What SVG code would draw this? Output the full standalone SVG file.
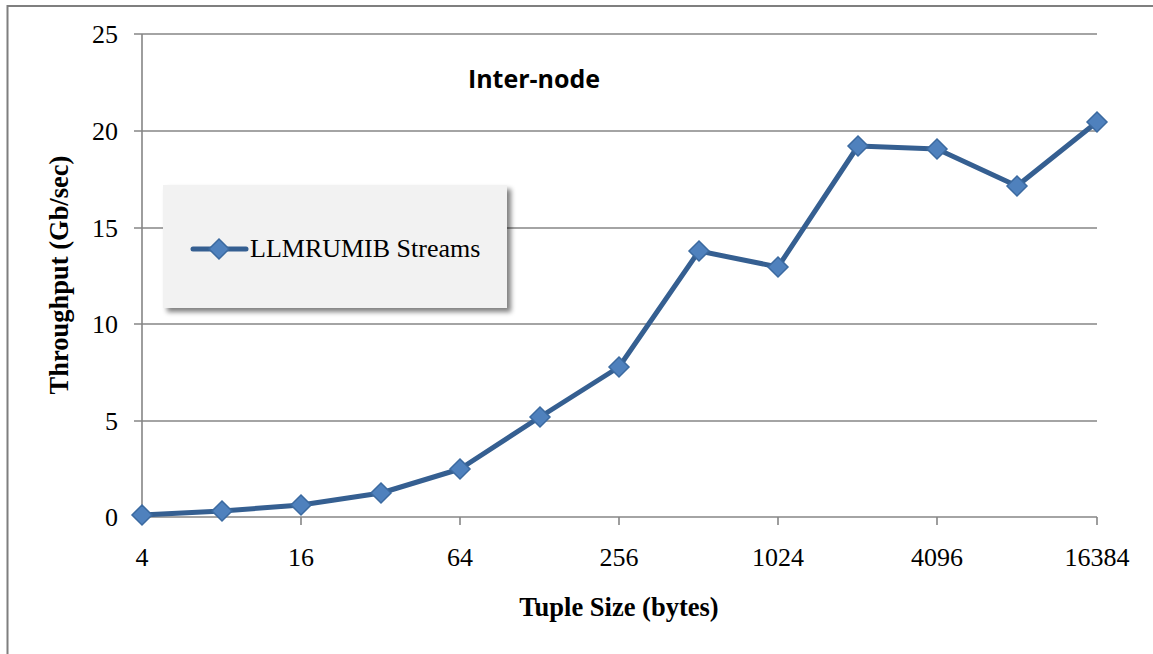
<svg xmlns="http://www.w3.org/2000/svg" width="1153" height="654" viewBox="0 0 1153 654">
<style>
.grid{stroke:#868686;stroke-width:1.6;fill:none}
.tl{font-family:"Liberation Serif",serif;font-size:26px;fill:#000}
.ttl{font-family:"Liberation Serif",serif;font-size:26.5px;font-weight:bold;fill:#000}
.series{stroke:#355f91;stroke-width:5;fill:none;stroke-linejoin:round}
</style>
<defs>
<path id="dia" d="M0,-10 L10,0 L0,10 L-10,0 Z" fill="#4f81bd" stroke="#3b6aa0" stroke-width="1.5"/>
<filter id="sh" x="-10%" y="-10%" width="120%" height="130%">
<feGaussianBlur in="SourceAlpha" stdDeviation="2.5"/>
<feOffset dx="4" dy="4"/>
<feComponentTransfer><feFuncA type="linear" slope="0.5"/></feComponentTransfer>
<feMerge><feMergeNode/><feMergeNode in="SourceGraphic"/></feMerge>
</filter>
</defs>
<rect x="0" y="0" width="1153" height="654" fill="#fff"/>
<path d="M7.5,654 V6 H1153" stroke="#7f7f7f" stroke-width="2" fill="none"/>
<g id="gridlines">
<path class="grid" d="M134,34 H1097 M134,131 H1097 M134,228 H1097 M134,324 H1097 M134,421 H1097 M134,517 H1097 M142,34 V517"/>
<path class="grid" d="M142,517 V525 M301,517 V525 M460,517 V525 M619,517 V525 M778,517 V525 M937,517 V525 M1097,517 V525"/>
</g>
<g id="y-labels" class="tl" text-anchor="end">
<text x="118" y="43">25</text>
<text x="118" y="140">20</text>
<text x="118" y="237">15</text>
<text x="118" y="333">10</text>
<text x="118" y="430">5</text>
<text x="118" y="526">0</text>
</g>
<g id="x-labels" class="tl" text-anchor="middle">
<text x="142" y="566">4</text>
<text x="301" y="566">16</text>
<text x="460" y="566">64</text>
<text x="619" y="566">256</text>
<text x="778" y="566">1024</text>
<text x="937" y="566">4096</text>
<text x="1097" y="566">16384</text>
</g>
<text id="x-title" class="ttl" x="619" y="616" text-anchor="middle">Tuple Size (bytes)</text>
<text id="y-title" class="ttl" transform="translate(68,275) rotate(-90)" text-anchor="middle">Throughput (Gb/sec)</text>
<text id="chart-title" x="534" y="88" text-anchor="middle" font-family="'Open Sans','Liberation Sans',sans-serif" font-weight="bold" font-size="25" fill="#000">Inter-node</text>
<g id="connectors">
<polyline class="series" points="142,515 222,511 301,505 381,493 460,469 540,417 619,367 699,251 778,267 858,146 937,149 1017,186 1097,122"/>
</g>
<g id="markers">
<use href="#dia" x="142" y="515"/>
<use href="#dia" x="222" y="511"/>
<use href="#dia" x="301" y="505"/>
<use href="#dia" x="381" y="493"/>
<use href="#dia" x="460" y="469"/>
<use href="#dia" x="540" y="417"/>
<use href="#dia" x="619" y="367"/>
<use href="#dia" x="699" y="251"/>
<use href="#dia" x="778" y="267"/>
<use href="#dia" x="858" y="146"/>
<use href="#dia" x="937" y="149"/>
<use href="#dia" x="1017" y="186"/>
<use href="#dia" x="1097" y="122"/>
</g>
<g id="legend">
<rect x="163" y="185" width="344" height="123" fill="#f2f2f2" filter="url(#sh)"/>
<path d="M193,249 H246" stroke="#355f91" stroke-width="5" stroke-linecap="round"/>
<use href="#dia" x="219" y="249"/>
<text x="250" y="257" font-family="'Liberation Serif',serif" font-size="26" fill="#000">LLMRUMIB Streams</text>
</g>
</svg>
